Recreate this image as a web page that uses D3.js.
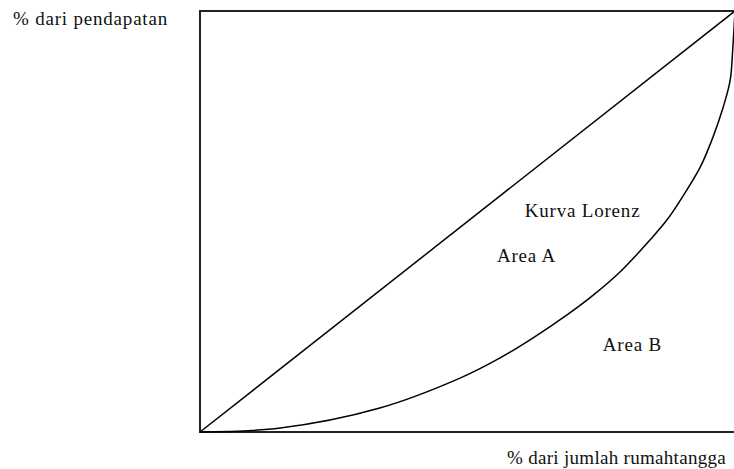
<!doctype html>
<html>
<head>
<meta charset="utf-8">
<title>Kurva Lorenz</title>
<script src="https://cdnjs.cloudflare.com/ajax/libs/d3/7.8.5/d3.min.js"></script>
<style>
body { margin:0; background:#fff; }
</style>
</head>
<body>
<div id="chart"></div>
<script>
// kumulatif % rumahtangga (x) dan % pendapatan (y)
var lorenzX = [0, 0.150, 0.336, 0.486, 0.561, 0.622, 0.686, 0.735, 0.785, 0.841, 0.873, 0.903, 0.935, 0.959, 0.978, 0.991, 0.996, 1];
var lorenzY = [0, 0.0095, 0.057, 0.128, 0.176, 0.223, 0.278, 0.325, 0.380, 0.456, 0.504, 0.561, 0.629, 0.701, 0.772, 0.836, 0.914, 1];
var equality = [0, 1];

var yTitle = "% dari pendapatan";
var xTitle = "% dari jumlah rumahtangga";
var notes = ["Kurva Lorenz", "Area A", "Area B"];
var noteAt = [[0.607, 0.511], [0.555, 0.404], [0.753, 0.192]];   // posisi data label

var W = 734, H = 469;
var serif = "Liberation Serif, Times New Roman, DejaVu Serif, serif";

var svg = d3.select("#chart").append("svg")
    .attr("width", W).attr("height", H);

var x = d3.scaleLinear().domain([0, 1]).range([200, 735]);
var y = d3.scaleLinear().domain([0, 1]).range([432, 11]);

// bingkai: kiri, atas, bawah
svg.append("path")
    .attr("d", "M" + x(1) + "," + y(1) + "H" + x(0) + "V" + y(0) + "H" + x(1))
    .attr("fill", "none")
    .attr("stroke", "#222")
    .attr("stroke-width", 2);

// garis kesamaan sempurna
svg.append("line")
    .attr("x1", x(equality[0])).attr("y1", y(equality[0]))
    .attr("x2", x(equality[1])).attr("y2", y(equality[1]))
    .attr("stroke", "#000").attr("stroke-width", 1.5);

var line = d3.line()
    .x(function(d, i){ return x(lorenzX[i]); })
    .y(function(d, i){ return y(lorenzY[i]); })
    .curve(d3.curveCatmullRom.alpha(0.5));

svg.append("path")
    .datum(lorenzX)
    .attr("d", line)
    .attr("fill", "none")
    .attr("stroke", "#000")
    .attr("stroke-width", 1.5);

function label(t, px, py, ls) {
  return svg.append("text")
      .attr("x", px).attr("y", py)
      .style("font-family", serif)
      .style("font-size", "19px")
      .style("letter-spacing", ls + "px")
      .attr("fill", "#111")
      .text(t);
}

label(yTitle, 13, 25, 0.8);
label(xTitle, 507, 464, 0.3);

notes.forEach(function(t, i){
  label(t, x(noteAt[i][0]), y(noteAt[i][1]), 0.8);
});
</script>
</body>
</html>
